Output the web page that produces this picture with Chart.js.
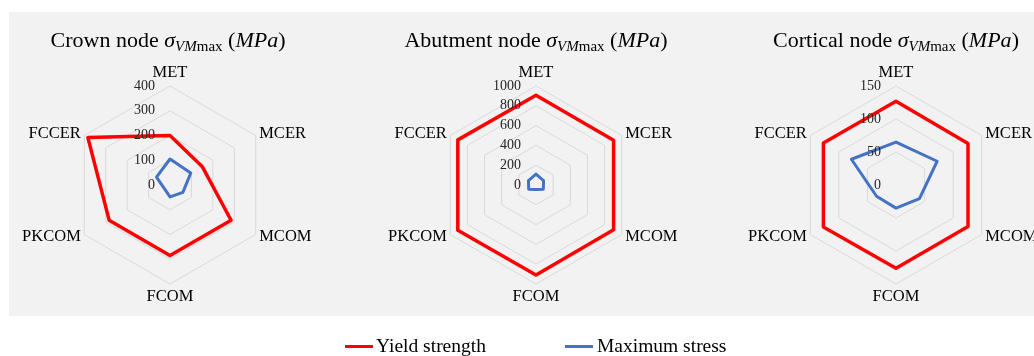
<!DOCTYPE html>
<html>
<head>
<meta charset="utf-8">
<script src="https://cdn.jsdelivr.net/npm/chart.js@4.4.1/dist/chart.umd.min.js"></script>
<style>
  html, body { margin: 0; padding: 0; background: #ffffff; }
  #page { position: relative; width: 1034px; height: 356px; overflow: hidden; font-family: "Liberation Serif", "Times New Roman", serif; }
  #panel { position: absolute; left: 9px; top: 12px; width: 1025px; height: 304px; background: #f2f2f2; }
  canvas { position: absolute; top: 0; }
  .title { position: absolute; top: 27px; width: 340px; text-align: center; font-size: 22px; line-height: 26px; color: #000; white-space: nowrap; }
  .title sub { font-size: 15px; line-height: 0; vertical-align: -4px; }
  .swatch { position: absolute; top: 345px; width: 28px; height: 3px; }
  .legtext { position: absolute; top: 336px; font-size: 19.5px; line-height: 20px; color: #000; white-space: nowrap; }
</style>
</head>
<body>
<div id="page">
  <div id="panel"></div>
  <canvas id="crown" width="345" height="356" style="left:0px"></canvas>
  <canvas id="abutment" width="345" height="356" style="left:345px"></canvas>
  <canvas id="cortical" width="345" height="356" style="left:689px"></canvas>
  <div class="title" style="left:-2px">Crown node <i>σ</i><sub><i>VM</i>max</sub> (<i>MPa</i>)</div>
  <div class="title" style="left:366px">Abutment node <i>σ</i><sub><i>VM</i>max</sub> (<i>MPa</i>)</div>
  <div class="title" style="left:726px">Cortical node <i>σ</i><sub><i>VM</i>max</sub> (<i>MPa</i>)</div>
  <div class="swatch" style="left:345px; background:#ff0000"></div>
  <div class="legtext" style="left:376px">Yield strength</div>
  <div class="swatch" style="left:565px; background:#4472c4"></div>
  <div class="legtext" style="left:597px">Maximum stress</div>
</div>
<script>
// Loading cases around each radar
const axisLabels = ['MET', 'MCER', 'MCOM', 'FCOM', 'PKCOM', 'FCCER'];

// Crown node (MPa)
const crownYield = [200, 150, 285, 285, 284, 383];
const crownMax = [105, 97, 60, 48, 27, 63];
const crownTicks = [0, 100, 200, 300, 400];

// Abutment node (MPa)
const abutmentYield = [907, 905, 905, 910, 912, 912];
const abutmentMax = [110, 88, 85, 45, 85, 88];
const abutmentTicks = [0, 200, 400, 600, 800, 1000];

// Cortical node (MPa)
const corticalYield = [127, 126, 126, 126, 127, 127];
const corticalMax = [65, 72, 41, 35, 34, 78];
const corticalTicks = [0, 50, 100, 150];

// Excel-style labels: ticks right-aligned beside the top axis, category names around the rim
const rimLabels = {
  id: 'rimLabels',
  afterDraw(chart) {
    const s = chart.scales.r;
    const ctx = chart.ctx;
    ctx.save();
    ctx.font = '14px "Liberation Serif"';
    ctx.fillStyle = '#262626';
    ctx.textAlign = 'right';
    ctx.textBaseline = 'middle';
    s.ticks.forEach(t => {
      const y = s.yCenter - s.getDistanceFromCenterForValue(t.value);
      ctx.fillText(String(t.value), s.xCenter - 15, y);
    });
    ctx.font = '16.5px "Liberation Serif"';
    ctx.fillStyle = '#000000';
    const n = chart.data.labels.length;
    chart.data.labels.forEach((lab, i) => {
      const vertical = (i === 0 || i * 2 === n);
      const p = s.getPointPosition(i, s.drawingArea + (vertical ? 13 : 4));
      ctx.textAlign = vertical ? 'center' : (p.x > s.xCenter ? 'left' : 'right');
      ctx.fillText(lab, p.x, p.y);
    });
    ctx.restore();
  }
};

function radar(id, yieldVals, maxVals, ticks, cx) {
  const R = 99;
  const W = 345, H = 356, cy = 185;
  return new Chart(document.getElementById(id), {
    type: 'radar',
    data: {
      labels: axisLabels,
      datasets: [
        { label: 'Yield strength', data: yieldVals, borderColor: '#ff0000', borderWidth: 3.5,
          fill: false, pointRadius: 0, pointHoverRadius: 0, borderJoinStyle: 'round' },
        { label: 'Maximum stress', data: maxVals, borderColor: '#4472c4', borderWidth: 3,
          fill: false, pointRadius: 0, pointHoverRadius: 0, borderJoinStyle: 'round' }
      ]
    },
    options: {
      responsive: false,
      animation: false,
      devicePixelRatio: 1,
      layout: { padding: { left: cx - R, right: W - cx - R, top: cy - R, bottom: H - cy - R } },
      plugins: { legend: { display: false }, tooltip: { enabled: false } },
      scales: {
        r: {
          min: ticks[0],
          max: ticks[ticks.length - 1],
          ticks: { display: false, stepSize: ticks[1] - ticks[0] },
          pointLabels: { display: false },
          angleLines: { display: false },
          grid: { color: '#d9d9d9', lineWidth: 1, circular: false }
        }
      }
    },
    plugins: [rimLabels]
  });
}

radar('crown', crownYield, crownMax, crownTicks, 170);
radar('abutment', abutmentYield, abutmentMax, abutmentTicks, 191);
radar('cortical', corticalYield, corticalMax, corticalTicks, 207);
</script>
</body>
</html>
